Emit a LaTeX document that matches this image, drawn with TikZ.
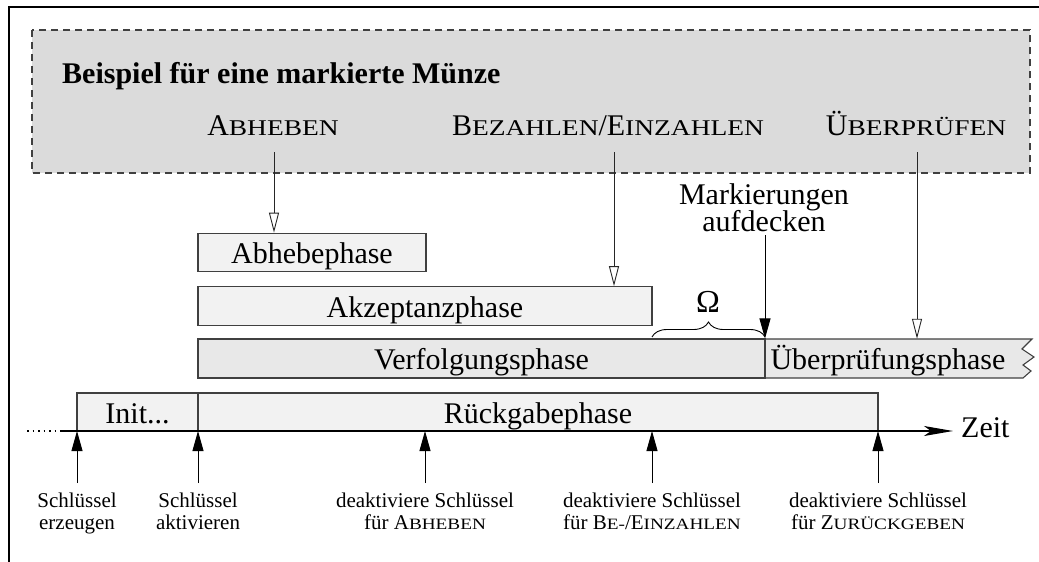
\documentclass[tikz,border=0pt]{standalone}
\usepackage{fontspec}
\setmainfont{Liberation Serif}
\newfontfamily\scfnt[FakeStretch=1.22]{Liberation Serif}
\usetikzlibrary{arrows.meta,decorations.pathreplacing}
\newcommand\kapA[1]{{\scfnt\fontsize{22.5}{24}\selectfont #1}}
\newcommand\kapB[1]{{\scfnt\fontsize{15.75}{18}\selectfont #1}}
\definecolor{dboxfill}{gray}{0.86}
\definecolor{lightfill}{gray}{0.95}
\definecolor{midfill}{gray}{0.91}
\definecolor{edgec}{gray}{0.25}
\begin{document}
\begin{tikzpicture}[x=1pt,y=-1pt,
  font=\fontsize{30}{32}\selectfont,
  pbox/.style={draw=edgec, line width=1.1pt, fill=lightfill, inner sep=0pt,
    text height=24pt, text depth=2pt, minimum height=38.5pt},
  mbox/.style={pbox, fill=midfill},
  oarr/.style={line width=0.9pt, draw=black!85, -{Triangle[open, length=20pt, width=10pt]}},
  sarr/.style={line width=0.9pt, -{Triangle[length=20pt, width=11pt]}},
  lbl/.style={inner sep=0pt, anchor=base, font=\fontsize{21}{22}\selectfont},
  op/.style={inner sep=0pt, anchor=base}]
\useasboundingbox (0,0) rectangle (1039,562);
% frame
\draw[line width=1.3pt] (9,562) -- (9,7) -- (1039,7);
% dashed example box
\draw[draw=edgec, line width=1.1pt, dash pattern=on 7pt off 5pt, fill=dboxfill] (32,30) rectangle (1030,173);
\node[anchor=base west, inner sep=0pt] (title) at (62,83) {\bfseries Beispiel für eine markierte Münze};
\node[op] (abh) at (273,135) {A\kapA{BHEBEN}};
\node[op] (bez) at (608,135) {B\kapA{EZAHLEN}/E\kapA{INZAHLEN}};
\node[op] (ueb) at (916,135) {Ü\kapA{BERPRÜFEN}};
\coordinate (a1) at (274,152);
\coordinate (a2) at (614,152);
\coordinate (a3) at (917,152);
% phase boxes
\node[pbox, minimum width=228pt] (abhp) at (312,252.5) {Abhebephase};
\node[pbox, minimum width=454pt] (akz) at (425,306) {Akzeptanzphase};
\draw[draw=edgec, line width=1.1pt, fill=midfill] (765,339) -- (1032,339) -- (1022,349) -- (1034,357) -- (1023,365) -- (1031,371) -- (1023,378) -- (765,378);
\node[mbox, minimum width=567pt, minimum height=39pt] (ver) at (481.5,358.5) {Verfolgungsphase};
\node[inner sep=0pt, text height=24pt, text depth=2pt, minimum height=39pt] (upr) at (888,358.5) {Überprüfungsphase};
\node[pbox, minimum width=121pt, minimum height=38pt] (init) at (137.5,412) {Init...};
\node[pbox, minimum width=680pt, minimum height=38pt] (rueck) at (538,412) {Rückgabephase};
% arrows from operations
\draw[oarr] (a1) -- (a1 |- abhp.north);
\draw[oarr] (a2) -- (a2 |- akz.north);
\draw[oarr] (a3) -- (a3 |- upr.north);
% Markierungen aufdecken
\node[op, font=\fontsize{30}{21}\selectfont] (mk) at (764,204) {\begin{tabular}[t]{@{}c@{}}Markierungen\\aufdecken\end{tabular}};
\coordinate (m0) at (765,235);
\draw[sarr] (m0) -- (m0 |- ver.north);
% brace and Omega
\draw[line width=0.9pt, decorate, decoration={brace, amplitude=15pt}] (652,337) -- (765,337);
\node[op, font=\fontsize{32}{34}\selectfont] (om) at (708,312) {Ω};
% time axis
\coordinate (ax0) at (27,431);
\coordinate (ax1) at (62,431);
\coordinate (ax2) at (953,431);
\draw[line width=1.4pt, dash pattern=on 1.5pt off 4pt] (ax0) -- (ax1);
\draw[line width=1.4pt, -{Stealth[length=29pt, width=10pt, inset=7pt]}] (ax1) -- (ax2);
\node[op, anchor=base west] (zeit) at (961,437) {Zeit};
% bottom labels
\node[lbl] (l1) at (77,507) {\begin{tabular}[t]{@{}c@{}}Schlüssel\\erzeugen\end{tabular}};
\node[lbl] (l2) at (198,507) {\begin{tabular}[t]{@{}c@{}}Schlüssel\\aktivieren\end{tabular}};
\node[lbl] (l3) at (425,507) {\begin{tabular}[t]{@{}c@{}}deaktiviere Schlüssel\\für A\kapB{BHEBEN}\end{tabular}};
\node[lbl] (l4) at (652,507) {\begin{tabular}[t]{@{}c@{}}deaktiviere Schlüssel\\für B\kapB{E-}/E\kapB{INZAHLEN}\end{tabular}};
\node[lbl] (l5) at (878,507) {\begin{tabular}[t]{@{}c@{}}deaktiviere Schlüssel\\für Z\kapB{URÜCKGEBEN}\end{tabular}};
\foreach \n in {l1,l2,l3,l4,l5}
  \draw[sarr] (\n.north |- 0,483) -- (\n.north |- ax0);
\end{tikzpicture}
\end{document}
